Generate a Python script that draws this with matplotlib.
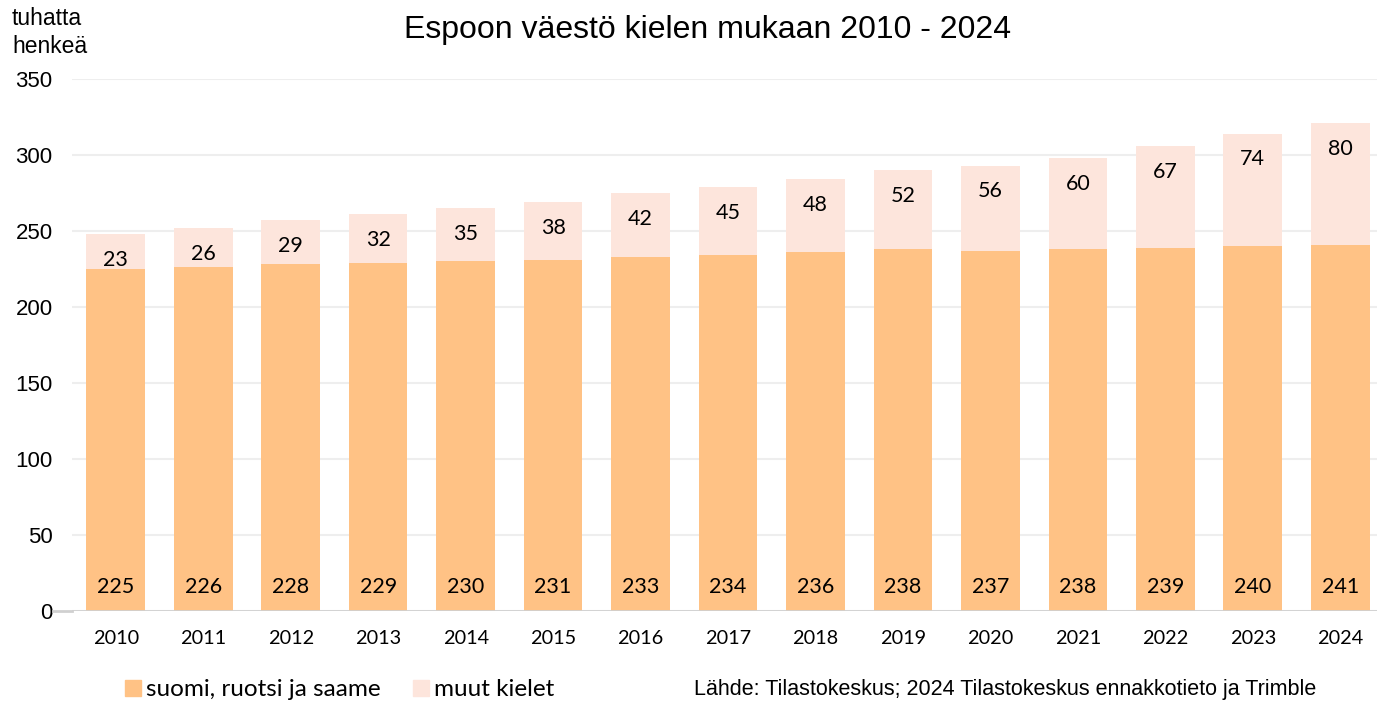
import numpy as np
import matplotlib.pyplot as plt
from matplotlib.patches import Patch

# Espoon väestö kielen mukaan (tuhatta henkeä)
vuodet = ["2010", "2011", "2012", "2013", "2014", "2015", "2016", "2017",
          "2018", "2019", "2020", "2021", "2022", "2023", "2024"]
kotimaiset = [225, 226, 228, 229, 230, 231, 233, 234, 236, 238, 237, 238, 239, 240, 241]
muut = [23, 26, 29, 32, 35, 38, 42, 45, 48, 52, 56, 60, 67, 74, 80]

c_koti = "#FFC285"
c_muut = "#FDE5DC"
arial = ["Liberation Sans", "DejaVu Sans"]
num_font = ["Lato", "DejaVu Sans"]

W, H = 1377, 701
fig = plt.figure(figsize=(W / 100, H / 100), dpi=100)
ax = fig.add_axes([72 / W, (H - 611) / H, (1384 - 72) / W, 532 / H])

x = np.arange(len(vuodet))
b1 = ax.bar(x, kotimaiset, width=0.67, color=c_koti, zorder=2)
b2 = ax.bar(x, muut, width=0.67, bottom=kotimaiset, color=c_muut, zorder=2)

for xi, k, m in zip(x, kotimaiset, muut):
    ax.annotate(str(k), (xi, 0), xytext=(0, 17), textcoords="offset points",
                ha="center", va="center", fontsize=15.5, family=num_font)
    ax.annotate(str(m), (xi, k + m), xytext=(0, -18.5), textcoords="offset points",
                ha="center", va="center", fontsize=15.5, family=num_font)

ax.set_xlim(-0.5, len(vuodet) - 0.5)
ax.set_ylim(0, 350)
ax.set_yticks(np.arange(0, 351, 50))
ax.yaxis.grid(True, color="#EEEEEE", linewidth=1.5, zorder=0)
ax.set_axisbelow(True)
for s in ["top", "right", "left", "bottom"]:
    ax.spines[s].set_visible(False)
ax.axhline(0, color="#D0D0D0", linewidth=2, zorder=3)
ax.plot([-0.72, -0.5], [0, 0], color="#D0D0D0", linewidth=2, clip_on=False)

ax.set_xticks(x)
ax.set_xticklabels(vuodet, family=num_font, fontsize=14.3)
ax.tick_params(axis="x", length=0, pad=14)
ax.tick_params(axis="y", length=0, pad=14, labelsize=16)
for t in ax.get_yticklabels():
    t.set_family(arial)

fig.text(708 / W, 1 - 30 / H, "Espoon väestö kielen mukaan 2010 - 2024",
         ha="center", va="center", fontsize=23, family=arial)
fig.text(12 / W, 1 - 7 / H, "tuhatta\nhenkeä", ha="left", va="top",
         fontsize=16.5, family=arial, linespacing=1.3)

handles = [Patch(color=c_koti, label="suomi, ruotsi ja saame"),
           Patch(color=c_muut, label="muut kielet")]
fig.legend(handles=handles, loc="center left", bbox_to_anchor=(103 / W, 1 - 690 / H),
           ncol=2, frameon=False, handlelength=0.65, handleheight=0.65,
           handletextpad=0.2, columnspacing=1.35, prop={"family": num_font, "size": 17.5})

fig.text(1005 / W, 1 - 690 / H,
         "Lähde: Tilastokeskus; 2024 Tilastokeskus ennakkotieto ja Trimble",
         ha="center", va="center", fontsize=15.5, family=arial)

fig.savefig("out.png", dpi=100)
